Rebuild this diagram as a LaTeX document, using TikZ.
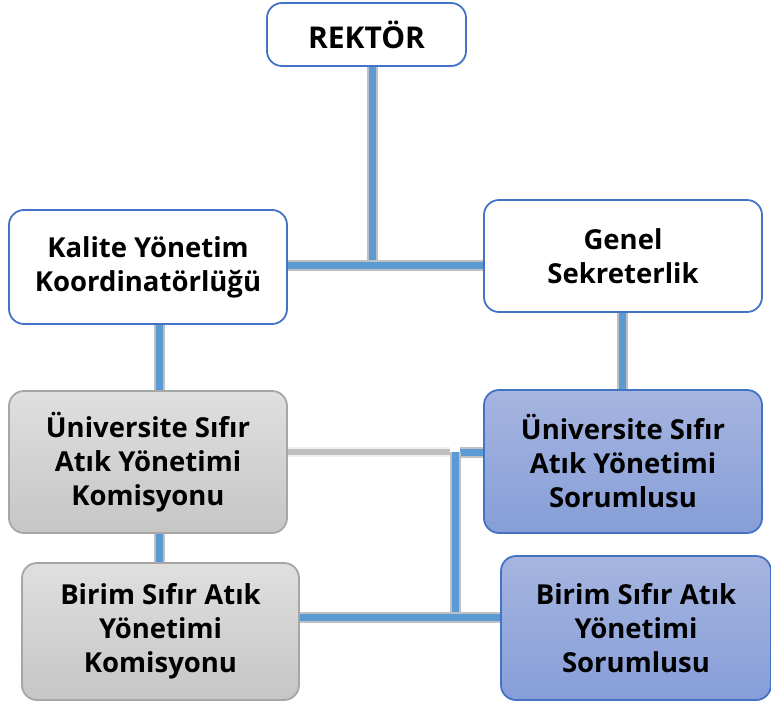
\documentclass[tikz,border=0pt]{standalone}
\usepackage{fontspec}
\setmainfont{Open Sans}
\usetikzlibrary{backgrounds}
\definecolor{edgeblue}{HTML}{4472C4}
\definecolor{linkblue}{HTML}{5B9BD5}
\definecolor{linkgray}{HTML}{C0C0C0}
\definecolor{boxgray}{HTML}{A6A6A6}
\tikzset{
  box/.style={draw=edgeblue, line width=1.8pt, rounded corners=15pt, fill=white,
    align=center, inner sep=0pt, font=\bfseries\fontsize{27.5}{34}\selectfont},
  graybox/.style={box, draw=boxgray, top color=gray!25, bottom color=gray!45},
  bluebox/.style={box, top color={rgb,255:red,166;green,181;blue,224}, bottom color={rgb,255:red,134;green,158;blue,216}},
  link/.style={draw=linkgray, line width=2pt, double=linkblue, double distance=7pt},
  paleline/.style={draw=gray!12, line width=2pt, double=linkgray, double distance=6pt}
}
\begin{document}
\begin{tikzpicture}[x=1pt,y=-1pt]
\useasboundingbox (0,0) rectangle (771,702);
\node[box, minimum width=199pt, minimum height=63pt, font=\bfseries\fontsize{30}{34}\selectfont] (rektor) at (366.5,34.5) {REKTÖR};
\node[box, minimum width=278pt, minimum height=114pt] (kalite) at (148,267) {Kalite Yönetim\\Koordinatörlüğü};
\node[box, minimum width=278pt, minimum height=112pt] (genel) at (623,256) {Genel\\Sekreterlik};
\node[graybox, minimum width=278pt, minimum height=142pt] (ukom) at (148,462) {Üniversite Sıfır\\Atık Yönetimi\\Komisyonu};
\node[graybox, minimum width=277pt, minimum height=137pt] (bkom) at (160.5,631.5) {Birim Sıfır Atık\\Yönetimi\\Komisyonu};
\node[bluebox, minimum width=278pt, minimum height=143pt] (usor) at (623,461.5) {Üniversite Sıfır\\Atık Yönetimi\\Sorumlusu};
\node[bluebox, minimum width=270pt, minimum height=144pt] (bsor) at (636,628) {Birim Sıfır Atık\\Yönetimi\\Sorumlusu};
\coordinate (top) at (372,265);
\coordinate (lx) at (159,0);
\coordinate (mid) at (455,452);
\coordinate (low) at (455,617);
\begin{scope}[on background layer]
\draw[link] (rektor.south -| top) -- (top);
\draw[link] (kalite.east |- top) -- (genel.west |- top);
\draw[link] (kalite.south -| lx) -- (ukom.north -| lx);
\draw[link] (ukom.south -| lx) -- (bkom.north -| lx);
\draw[link] (genel.south -| 622,0) -- (usor.north -| 622,0);
\draw[paleline] (ukom.east |- mid) -- ([xshift=-5pt]mid);
\draw[link] ([xshift=5pt]mid) -- (usor.west |- mid);
\draw[link] (mid) -- (low);
\draw[link] (bkom.east |- low) -- (bsor.west |- low);
\end{scope}
\end{tikzpicture}
\end{document}
